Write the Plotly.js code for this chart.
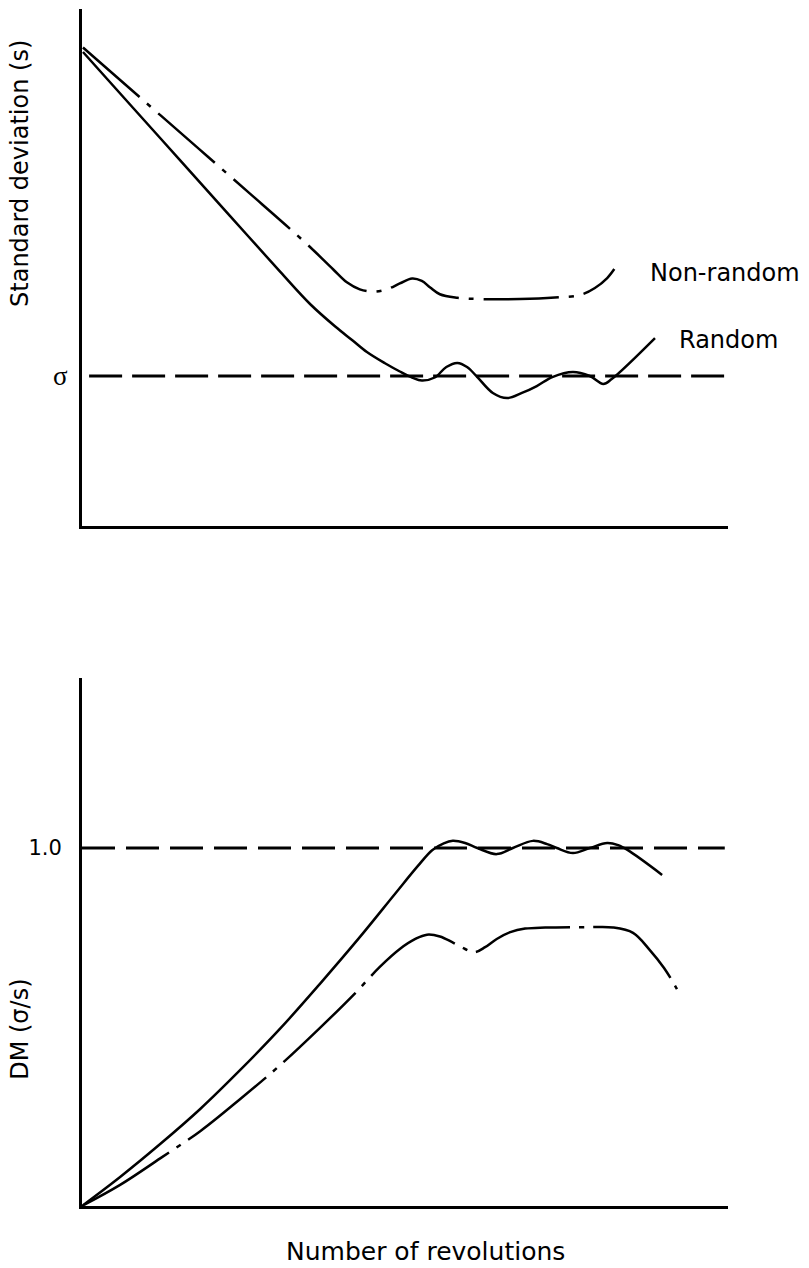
<!DOCTYPE html>
<html>
<head>
<meta charset="utf-8">
<script src="https://cdn.plot.ly/plotly-3.0.1.min.js"></script>
<style>html,body{margin:0;padding:0;background:#fff;}#chart{width:809px;height:1268px;}</style>
</head>
<body>
<div id="chart"></div>
<script>
// ---- Top panel: standard deviation s (in units of sigma) vs number of revolutions (arbitrary 0-100)
const xRandomTop = [0.15, 7.4, 15.2, 22.9, 30.7, 35.3, 39.2, 41.8, 44.1, 46.9, 49.2, 51.1, 52.6, 54.6, 56.4, 58.1, 59.6, 61.2, 63.6, 65.8, 68.1, 70.4, 72.8, 76.0, 78.6, 80.7, 82.0, 88.7];
const sRandomTop = [3.16, 2.812, 2.438, 2.068, 1.694, 1.48, 1.33, 1.24, 1.16, 1.085, 1.03, 0.99, 0.97, 0.99, 1.06, 1.087, 1.06, 0.993, 0.887, 0.853, 0.887, 0.933, 0.993, 1.027, 1.0, 0.947, 0.98, 1.253];

const xNonRandomTop = [0.15, 9.1, 18.1, 26.0, 31.4, 35.3, 38.9, 41.0, 43.0, 45.1, 47.2, 49.2, 51.1, 52.6, 53.9, 55.4, 58.1, 61.6, 67.8, 73.2, 77.1, 79.4, 81.3, 82.4];
const sNonRandomTop = [3.19, 2.853, 2.514, 2.216, 2.012, 1.86, 1.71, 1.625, 1.578, 1.562, 1.578, 1.617, 1.65, 1.634, 1.59, 1.545, 1.522, 1.513, 1.513, 1.523, 1.54, 1.587, 1.653, 1.713];

const xSigmaLine = [1.1, 99.8];
const sSigmaLine = [1, 1];

// ---- Bottom panel: DM (sigma/s)
const xRandomBot = [0, 5.9, 12.1, 18.3, 24.5, 30.7, 36.8, 43.0, 48.5, 52.0, 54.2, 56.0, 57.4, 59.3, 61.2, 64.2, 66.7, 69.8, 72.0, 73.5, 76.0, 78.6, 81.3, 83.0, 84.5, 89.8];
const dmRandomBot = [0, 0.081, 0.173, 0.271, 0.38, 0.496, 0.62, 0.751, 0.873, 0.95, 0.994, 1.013, 1.02, 1.014, 1.0, 0.983, 1.0, 1.02, 1.011, 1.0, 0.986, 1.0, 1.014, 1.008, 0.994, 0.925];

const xNonRandomBot = [0.3, 5.9, 12.1, 18.3, 24.5, 30.7, 36.8, 42.3, 46.1, 49.2, 51.6, 53.4, 55.4, 57.3, 59.3, 60.8, 62.4, 64.2, 66.3, 68.6, 71.7, 78.6, 82.2, 85.3, 87.9, 90.1, 92.1];
const dmNonRandomBot = [0.003, 0.059, 0.133, 0.209, 0.299, 0.394, 0.497, 0.595, 0.668, 0.718, 0.746, 0.758, 0.753, 0.737, 0.718, 0.709, 0.723, 0.746, 0.765, 0.775, 0.778, 0.779, 0.778, 0.763, 0.715, 0.665, 0.606];

const xUnityLine = [0, 99.5];
const dmUnityLine = [1, 1];

const topTickVals = [1];
const topTickText = ['σ'];
const botTickVals = [1];
const botTickText = ['1.0'];

const FONT = 'DejaVu Sans, sans-serif';

const traces = [
  {x: xSigmaLine, y: sSigmaLine, xaxis: 'x', yaxis: 'y', mode: 'lines',
   line: {color: 'black', width: 3, dash: '33px,10px'}, hoverinfo: 'skip'},
  {x: xRandomTop, y: sRandomTop, xaxis: 'x', yaxis: 'y', mode: 'lines', name: 'Random',
   line: {color: 'black', width: 2.5, shape: 'spline', smoothing: 1}},
  {x: xNonRandomTop, y: sNonRandomTop, xaxis: 'x', yaxis: 'y', mode: 'lines', name: 'Non-random',
   line: {color: 'black', width: 2.5, shape: 'spline', smoothing: 1, dash: '75px,10px,5px,10px'}},
  {x: xUnityLine, y: dmUnityLine, xaxis: 'x2', yaxis: 'y2', mode: 'lines',
   line: {color: 'black', width: 3, dash: '33px,11px'}, hoverinfo: 'skip'},
  {x: xRandomBot, y: dmRandomBot, xaxis: 'x2', yaxis: 'y2', mode: 'lines', name: 'Random',
   line: {color: 'black', width: 2.5, shape: 'spline', smoothing: 1}},
  {x: xNonRandomBot, y: dmNonRandomBot, xaxis: 'x2', yaxis: 'y2', mode: 'lines', name: 'Non-random',
   line: {color: 'black', width: 2.5, shape: 'spline', smoothing: 1, dash: '100px,9px,5px,9px'}}
];

const axisBase = {
  showline: true, linewidth: 3, linecolor: 'black', showgrid: false, zeroline: false,
  ticks: '', fixedrange: true
};

const layout = {
  width: 809, height: 1268,
  margin: {l: 82, r: 81, t: 9, b: 62, pad: 0},
  paper_bgcolor: 'white', plot_bgcolor: 'white',
  showlegend: false,
  font: {family: FONT, color: 'black', size: 22},
  xaxis: Object.assign({}, axisBase, {domain: [0, 1], range: [0, 100], anchor: 'y', showticklabels: false}),
  yaxis: Object.assign({}, axisBase, {domain: [0.5681, 1], range: [0, 3.447], anchor: 'x',
    tickvals: topTickVals, ticktext: topTickText, ticklabelstandoff: 6,
    tickfont: {family: 'Liberation Serif, serif', size: 27, color: 'black'}}),
  xaxis2: Object.assign({}, axisBase, {domain: [0, 1], range: [0, 100], anchor: 'y2', showticklabels: false}),
  yaxis2: Object.assign({}, axisBase, {domain: [0, 0.4411], range: [0, 1.475], anchor: 'x2',
    tickvals: botTickVals, ticktext: botTickText, ticklabelstandoff: 13,
    tickfont: {family: FONT, size: 21, color: 'black'}}),
  annotations: [
    {text: 'Standard deviation (s)', xref: 'paper', yref: 'paper', x: -0.096, y: 0.863,
     textangle: -90, showarrow: false, xanchor: 'center', yanchor: 'middle', font: {family: FONT, size: 24}},
    {text: 'DM (σ/s)', xref: 'paper', yref: 'paper', x: -0.096, y: 0.148,
     textangle: -90, showarrow: false, xanchor: 'center', yanchor: 'middle', font: {family: FONT, size: 24}},
    {text: 'Number of revolutions', xref: 'paper', yref: 'paper', x: 0.5325, y: -0.0376,
     showarrow: false, xanchor: 'center', yanchor: 'middle', font: {family: FONT, size: 25}},
    {text: 'Non-random', xref: 'x', yref: 'y', x: 87.6, y: 1.69,
     showarrow: false, xanchor: 'left', yanchor: 'middle', font: {family: FONT, size: 24}},
    {text: 'Random', xref: 'x', yref: 'y', x: 92.1, y: 1.24,
     showarrow: false, xanchor: 'left', yanchor: 'middle', font: {family: FONT, size: 24}}
  ]
};

Plotly.newPlot('chart', traces, layout, {displayModeBar: false, staticPlot: true});
</script>
</body>
</html>
